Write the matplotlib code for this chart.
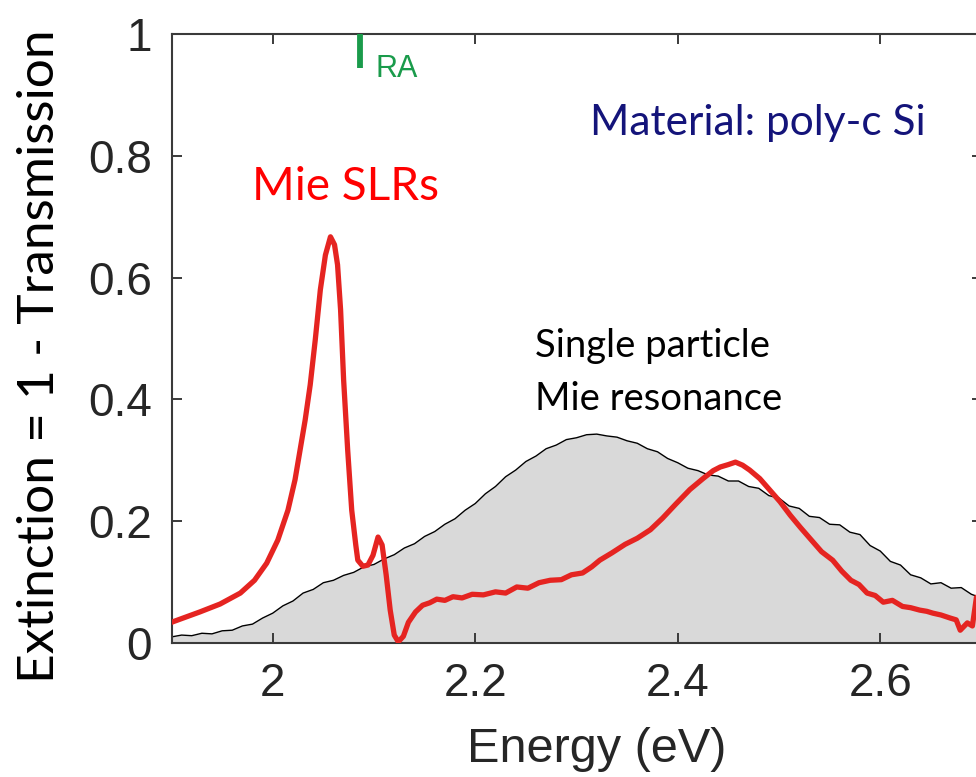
import matplotlib
matplotlib.use("Agg")
import matplotlib.pyplot as plt

# Single-particle Mie resonance (black line, grey fill)
single_E = [1.90, 1.91, 1.92, 1.93, 1.94, 1.95, 1.96, 1.97, 1.98, 1.99,
            2.00, 2.01, 2.02, 2.03, 2.04, 2.05, 2.06, 2.07, 2.08, 2.09,
            2.10, 2.11, 2.12, 2.13, 2.14, 2.15, 2.16, 2.17, 2.18, 2.19,
            2.20, 2.21, 2.22, 2.23, 2.24, 2.25, 2.26, 2.27, 2.28, 2.29,
            2.30, 2.31, 2.32, 2.33, 2.34, 2.35, 2.36, 2.37, 2.38, 2.39,
            2.40, 2.41, 2.42, 2.43, 2.44, 2.45, 2.46, 2.47, 2.48, 2.49,
            2.50, 2.51, 2.52, 2.53, 2.54, 2.55, 2.56, 2.57, 2.58, 2.59,
            2.60, 2.61, 2.62, 2.63, 2.64, 2.65, 2.66, 2.67, 2.68, 2.69, 2.70]
single_ext = [0.010, 0.013, 0.012, 0.016, 0.015, 0.020, 0.021, 0.028, 0.031, 0.041,
              0.049, 0.061, 0.069, 0.082, 0.088, 0.099, 0.103, 0.111, 0.116, 0.125,
              0.129, 0.138, 0.145, 0.156, 0.163, 0.175, 0.183, 0.195, 0.204, 0.218,
              0.229, 0.245, 0.257, 0.273, 0.284, 0.298, 0.307, 0.319, 0.325, 0.334,
              0.337, 0.342, 0.343, 0.340, 0.338, 0.332, 0.328, 0.319, 0.314, 0.303,
              0.296, 0.287, 0.283, 0.276, 0.274, 0.266, 0.266, 0.257, 0.254, 0.242,
              0.238, 0.225, 0.221, 0.208, 0.206, 0.195, 0.194, 0.182, 0.178, 0.160,
              0.151, 0.134, 0.128, 0.112, 0.107, 0.097, 0.099, 0.090, 0.091, 0.080, 0.074]

# Mie surface lattice resonances (red line)
slr_E = [1.900, 1.928, 1.948, 1.968, 1.982, 1.994, 2.005, 2.015, 2.022, 2.027,
         2.032, 2.037, 2.042, 2.047, 2.052, 2.057, 2.061, 2.064, 2.067, 2.070,
         2.074, 2.078, 2.082, 2.084, 2.089, 2.094, 2.099, 2.104, 2.108, 2.112,
         2.116, 2.120, 2.124, 2.129, 2.134, 2.141, 2.148, 2.155, 2.162, 2.170,
         2.178, 2.187, 2.197, 2.208, 2.220, 2.230, 2.241, 2.252, 2.263, 2.274,
         2.285, 2.295, 2.306, 2.315, 2.323, 2.335, 2.348, 2.360, 2.373, 2.385,
         2.398, 2.412, 2.425, 2.435, 2.442, 2.450, 2.457, 2.464, 2.471, 2.481,
         2.491, 2.501, 2.511, 2.521, 2.532, 2.542, 2.553, 2.562, 2.571, 2.579,
         2.587, 2.595, 2.603, 2.612, 2.622, 2.630, 2.639, 2.646, 2.652, 2.660,
         2.669, 2.675, 2.679, 2.686, 2.691, 2.695, 2.700]
slr_ext = [0.034, 0.051, 0.064, 0.082, 0.103, 0.131, 0.169, 0.218, 0.268, 0.317,
           0.366, 0.424, 0.498, 0.580, 0.637, 0.667, 0.654, 0.621, 0.547, 0.432,
           0.317, 0.218, 0.161, 0.136, 0.126, 0.128, 0.144, 0.174, 0.161, 0.112,
           0.054, 0.013, 0.002, 0.011, 0.034, 0.051, 0.062, 0.066, 0.072, 0.070,
           0.076, 0.074, 0.080, 0.079, 0.084, 0.082, 0.092, 0.090, 0.099, 0.103,
           0.104, 0.112, 0.115, 0.125, 0.136, 0.148, 0.162, 0.172, 0.186, 0.205,
           0.228, 0.252, 0.270, 0.283, 0.289, 0.293, 0.297, 0.292, 0.284, 0.270,
           0.251, 0.232, 0.210, 0.190, 0.169, 0.150, 0.136, 0.118, 0.103, 0.096,
           0.082, 0.078, 0.067, 0.070, 0.060, 0.058, 0.054, 0.052, 0.049, 0.046,
           0.041, 0.038, 0.021, 0.033, 0.028, 0.075, 0.080]

# Rayleigh anomaly position
E_RA = 2.086

x_ticks = [2.0, 2.2, 2.4, 2.6]
x_ticklabels = ["2", "2.2", "2.4", "2.6"]
y_ticks = [0, 0.2, 0.4, 0.6, 0.8, 1.0]
y_ticklabels = ["0", "0.2", "0.4", "0.6", "0.8", "1"]

RED = "#E52421"
NAVY = "#14147A"
GREEN = "#1A9B4B"
AX_GREY = "#3A3A3A"
TICK_FONT = "Liberation Sans"
NOTE_FONT = "Lato"

fig = plt.figure(figsize=(9.76, 7.77), dpi=100)
ax = fig.add_axes([171.5 / 976, 134 / 777, 810 / 976, 609 / 777])

ax.fill_between(single_E, single_ext, 0, color="#D9D9D9", lw=0, zorder=1)
ax.plot(single_E, single_ext, color="black", lw=1.0, zorder=2)
ax.plot(slr_E, slr_ext, color=RED, lw=3.8, solid_joinstyle="round", zorder=3)
ax.plot([E_RA, E_RA], [1.0, 0.944], color=GREEN, lw=4.2, solid_capstyle="butt",
        zorder=4, clip_on=False)

ax.set_xlim(1.9, 2.7)
ax.set_ylim(0, 1)
ax.set_xticks(x_ticks)
ax.set_xticklabels(x_ticklabels)
ax.set_yticks(y_ticks)
ax.set_yticklabels(y_ticklabels)
ax.tick_params(direction="in", length=7, width=1.4, color=AX_GREY,
               top=True, right=True, labelsize=33, labelcolor="#262626", pad=14)
for lbl in ax.get_xticklabels() + ax.get_yticklabels():
    lbl.set_fontfamily(TICK_FONT)
for sp in ax.spines.values():
    sp.set_color(AX_GREY)
    sp.set_linewidth(1.5)

# annotations
ax.text(2.101, 0.929, "RA", color=GREEN, fontsize=22, family=TICK_FONT, va="baseline")
ax.text(1.980, 0.727, "Mie SLRs", color="#FF0000", fontsize=33, family=NOTE_FONT,
        va="baseline")
ax.text(2.259, 0.470, "Single particle", color="black", fontsize=27.5, family=NOTE_FONT,
        va="baseline")
ax.text(2.259, 0.383, "Mie resonance", color="black", fontsize=27.5, family=NOTE_FONT,
        va="baseline")
ax.text(2.313, 0.834, "Material: poly-c Si", color=NAVY, fontsize=30.5, family=NOTE_FONT,
        va="baseline")

fig.text(597 / 976, 1 - 750 / 777, "Energy (eV)", fontsize=35, family=TICK_FONT,
         color="#262626", ha="center", va="center")
fig.text(40 / 976, 1 - 356 / 777, "Extinction = 1 - Transmission", fontsize=37,
         family=NOTE_FONT, color="black", rotation=90, ha="center", va="center")

fig.savefig("out.png", dpi=100)
